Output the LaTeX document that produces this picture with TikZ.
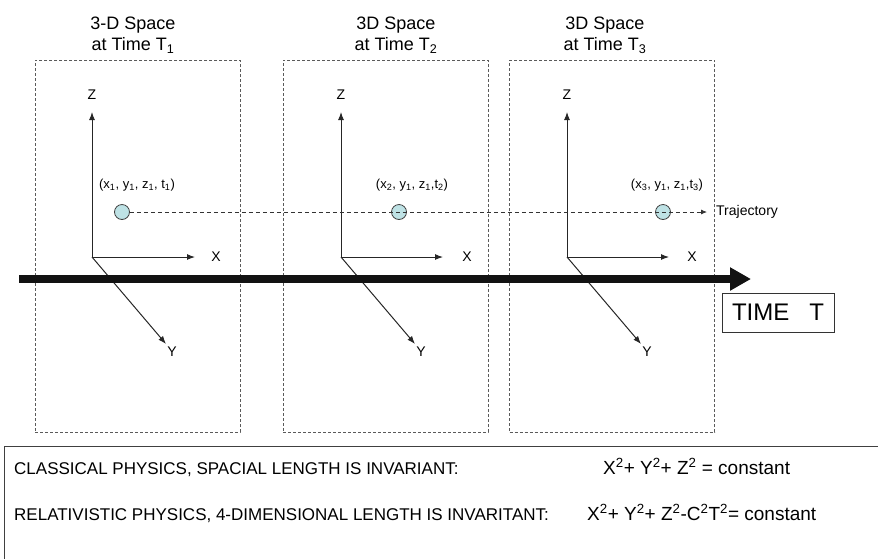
\documentclass[tikz,border=0pt]{standalone}
\usepackage{fontspec}
\setmainfont{Liberation Sans}
\usepackage{xcolor}
\usetikzlibrary{arrows.meta, positioning}
\definecolor{dotcyan}{RGB}{190, 226, 229}
\definecolor{framegray}{RGB}{90, 90, 90}

\begin{document}
\begin{tikzpicture}[
  x=1pt, y=-1pt,
  every node/.style={font=\fontsize{14}{16}\selectfont, inner sep=1pt},
  frame/.style={draw=framegray, dash pattern=on 3pt off 2pt, line width=0.8pt, minimum width=205pt, minimum height=372pt},
  ttl/.style={font=\fontsize{18}{21}\selectfont, align=center},
  axis/.style={-{Latex[length=8pt, width=6pt]}, line width=1pt, draw=black!85},
  dot/.style={circle, draw=black!75, fill=dotcyan, minimum size=15pt, inner sep=0pt, line width=0.8pt},
  coord/.style={font=\fontsize{13}{15}\selectfont},
  traj/.style={-{Latex[length=6pt, width=5pt]}, dash pattern=on 4pt off 3pt, line width=0.8pt, draw=black!80},
  timeline/.style={-{Triangle[length=21pt, width=22pt]}, line width=8pt, draw=black!93},
  timebox/.style={draw=black!80, line width=1pt, minimum width=112pt, minimum height=39pt, font=\fontsize{24}{26}\selectfont},
  law/.style={anchor=base west, font=\fontsize{17}{19}\selectfont, inner sep=0pt},
  eqn/.style={law, font=\fontsize{19}{21}\selectfont}
]
  \useasboundingbox (0,0) rectangle (878,558);

  % the three snapshots of space
  \node[frame] (f1) at (137.5,246) {};
  \node[frame] (f2) at (385.5,246) {};
  \node[frame] (f3) at (612,246) {};

  \node[ttl] (t1) at (133,35) {3-D Space\\at Time T\textsubscript{1}};
  \node[ttl] (t2) at (396,35) {3D Space\\at Time T\textsubscript{2}};
  \node[ttl] (t3) at (605,35) {3D Space\\at Time T\textsubscript{3}};

  % axes at T1
  \coordinate (o1) at (92,257);
  \coordinate (z1) at (92,112);
  \coordinate (x1) at (195,257);
  \coordinate (y1) at (166,344);
  \draw[axis] (o1) -- (z1);
  \draw[axis] (o1) -- (x1);
  \draw[axis] (o1) -- (y1);
  \node (zl1) at (92,95) {Z};
  \node (xl1) at (216,257) {X};
  \node (yl1) at (172,352) {Y};

  % axes at T2
  \coordinate (o2) at (341,257);
  \coordinate (z2) at (341,112);
  \coordinate (x2) at (443,257);
  \coordinate (y2) at (415,344);
  \draw[axis] (o2) -- (z2);
  \draw[axis] (o2) -- (x2);
  \draw[axis] (o2) -- (y2);
  \node (zl2) at (341,95) {Z};
  \node (xl2) at (467,257) {X};
  \node (yl2) at (421,352) {Y};

  % axes at T3
  \coordinate (o3) at (567,257);
  \coordinate (z3) at (567,112);
  \coordinate (x3) at (669,257);
  \coordinate (y3) at (641,344);
  \draw[axis] (o3) -- (z3);
  \draw[axis] (o3) -- (x3);
  \draw[axis] (o3) -- (y3);
  \node (zl3) at (567,95) {Z};
  \node (xl3) at (692,257) {X};
  \node (yl3) at (647,352) {Y};

  % the moving point
  \node[dot] (d1) at (122,212) {};
  \node[dot] (d2) at (399,212) {};
  \node[dot] (d3) at (663,212) {};
  \coordinate (tr) at (707,212);
  \draw[traj] (d1) -- (tr);
  \node[anchor=west] (trl) at (715,212) {Trajectory};

  \node[coord] (c1) at (137,185) {(x\textsubscript{1}, y\textsubscript{1}, z\textsubscript{1}, t\textsubscript{1})};
  \node[coord] (c2) at (412,185) {(x\textsubscript{2}, y\textsubscript{1}, z\textsubscript{1},t\textsubscript{2})};
  \node[coord] (c3) at (667,185) {(x\textsubscript{3}, y\textsubscript{1}, z\textsubscript{1},t\textsubscript{3})};

  % time axis
  \coordinate (ts) at (19,279);
  \coordinate (te) at (751,279);
  \draw[timeline] (ts) -- (te);
  \node[timebox] (tb) at (778,312.5) {TIME\ \ \ T};

  % invariants
  \draw[draw=black!75, line width=1pt] (4,446) rectangle (880,560);
  \node[law] (cl) at (14,474) {CLASSICAL PHYSICS, SPACIAL LENGTH IS INVARIANT:};
  \node[eqn] (ce) at (603,474) {X\textsuperscript{2}+ Y\textsuperscript{2}+ Z\textsuperscript{2} = constant};
  \node[law] (rl) at (14,520) {RELATIVISTIC PHYSICS, 4-DIMENSIONAL LENGTH IS INVARITANT:};
  \node[eqn] (re) at (587,520) {X\textsuperscript{2}+ Y\textsuperscript{2}+ Z\textsuperscript{2}-C\textsuperscript{2}T\textsuperscript{2}= constant};

\end{tikzpicture}
\end{document}
